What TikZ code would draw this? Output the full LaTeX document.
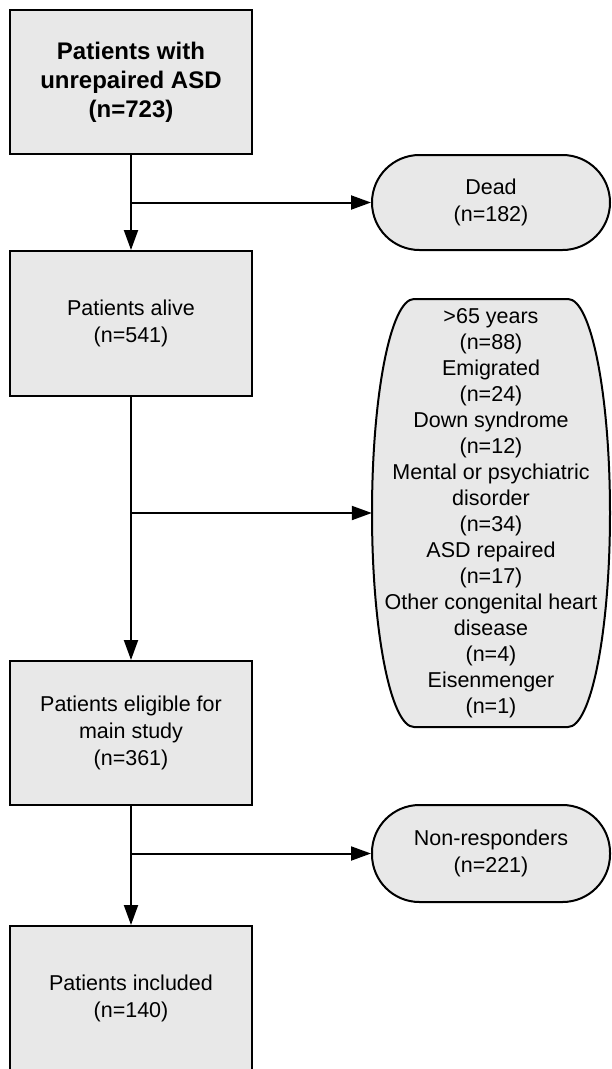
\documentclass[tikz,border=0pt]{standalone}
\usepackage{fontspec}
\setmainfont{Liberation Sans}
\usetikzlibrary{arrows.meta}
\definecolor{fillgray}{RGB}{232,232,232}
\begin{document}
\begin{tikzpicture}[x=1pt,y=-1pt,
  boxnode/.style={draw=black, line width=2pt, fill=fillgray, inner sep=0pt,
    minimum width=242pt, minimum height=144pt, align=center,
    font=\fontsize{21.5}{27}\selectfont},
  termnode/.style={draw=black, line width=2pt, fill=fillgray, inner sep=0pt,
    minimum width=238pt, rounded corners=47.5pt, align=center,
    font=\fontsize{21.5}{26.5}\selectfont},
  connector/.style={line width=2pt, -{Triangle[length=20pt,width=14pt]}},
  plainline/.style={line width=2pt}]
\useasboundingbox (0,0) rectangle (611,1069);
\fill[white] (0,0) rectangle (611,1069);

% left column
\node[boxnode, font=\bfseries\fontsize{24}{29}\selectfont] (b1) at (131,82)
  {Patients with\\unrepaired ASD\\(n=723)};
\node[boxnode, minimum height=145pt] (b2) at (131,323.5)
  {Patients alive\\(n=541)};
\node[boxnode] (b3) at (131,733)
  {Patients eligible for\\main study\\(n=361)};
\node[boxnode] (b4) at (131,998)
  {Patients included\\(n=140)};

% right column
\node[termnode, minimum height=95pt] (dead) at (491,202.5)
  {Dead\\(n=182)};
\node[termnode, minimum height=97pt] (nonresp) at (491,853.5)
  {Non-responders\\(n=221)};

\draw[line width=2pt, fill=fillgray]
  (414,299) -- (568,299)
  arc[start angle=-90, end angle=90, x radius=42, y radius=214]
  -- (414,727)
  arc[start angle=90, end angle=270, x radius=42, y radius=214]
  -- cycle;
\node[inner sep=0pt, minimum width=238pt, minimum height=428pt, align=center,
  font=\fontsize{21.5}{26}\selectfont] (excl) at (491,513)
  {>65 years\\(n=88)\\Emigrated\\(n=24)\\Down syndrome\\(n=12)\\Mental or psychiatric\\disorder\\(n=34)\\ASD repaired\\(n=17)\\Other congenital heart\\disease\\(n=4)\\Eisenmenger\\(n=1)};

% connectors
\draw[connector] (b1.south) -- (b2.north);
\draw[connector] (b2.south) -- (b3.north);
\draw[connector] (b3.south) -- (b4.north);
\draw[connector] (b1.south |- dead.west) -- (dead.west);
\draw[connector] (b2.south |- excl.west) -- (excl.west);
\draw[connector] (b3.south |- nonresp.west) -- (nonresp.west);
\end{tikzpicture}
\end{document}
